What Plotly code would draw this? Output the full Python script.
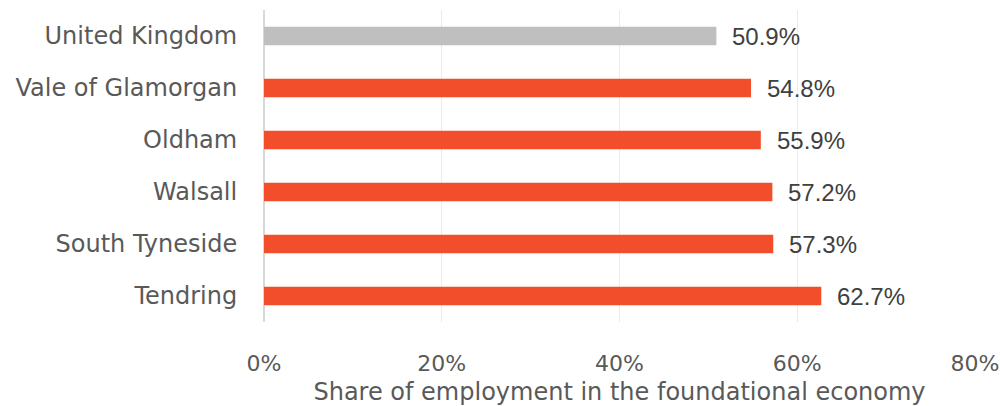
import plotly.graph_objects as go

# Share of employment in the foundational economy, by area
areas = ["United Kingdom", "Vale of Glamorgan", "Oldham", "Walsall", "South Tyneside", "Tendring"]
shares = [50.9, 54.8, 55.9, 57.2, 57.3, 62.7]
bar_colors = ["#bfbfbf", "#f24e2b", "#f24e2b", "#f24e2b", "#f24e2b", "#f24e2b"]
tick_vals = [0, 20, 40, 60, 80]
tick_text = ["0%", "20%", "40%", "60%", "80%"]

label_font = "DejaVu Sans, Poppins, sans-serif"

fig = go.Figure(
    go.Bar(
        x=shares,
        y=areas,
        orientation="h",
        marker=dict(color=bar_colors, line=dict(width=0)),
        width=0.36,
        hoverinfo="skip",
    )
)

# Value labels to the right of each bar
for area, val in zip(areas, shares):
    fig.add_annotation(
        x=val, y=area, text=f"{val:.1f}%",
        xanchor="left", yanchor="middle", xshift=14, yshift=0,
        showarrow=False,
        font=dict(family="Liberation Sans, Arial, sans-serif", size=24, color="#404040"),
    )

fig.update_layout(
    width=1000, height=406,
    margin=dict(l=264, r=25, t=10, b=84),
    plot_bgcolor="white", paper_bgcolor="white",
    showlegend=False,
    font=dict(family=label_font, size=24, color="#595959"),
    xaxis=dict(
        range=[0, 80],
        tickvals=tick_vals, ticktext=tick_text,
        tickfont=dict(family=label_font, size=22, color="#595959"),
        showgrid=True, gridcolor="#ebebeb", gridwidth=1,
        zeroline=True, zerolinecolor="#d9d9d9", zerolinewidth=2,
        showline=False, automargin=False,
        ticks="outside", ticklen=0, ticklabelstandoff=22,
        title=dict(text="Share of employment in the foundational economy", standoff=7,
                   font=dict(family=label_font, size=24, color="#595959")),
        fixedrange=True,
    ),
    yaxis=dict(
        categoryorder="array", categoryarray=areas[::-1],
        tickfont=dict(family=label_font, size=24, color="#595959"),
        showgrid=False, zeroline=False, showline=False, automargin=False,
        ticks="outside", ticklen=0, ticklabelstandoff=21,
        fixedrange=True,
    ),
)

fig.write_html("out.html")
